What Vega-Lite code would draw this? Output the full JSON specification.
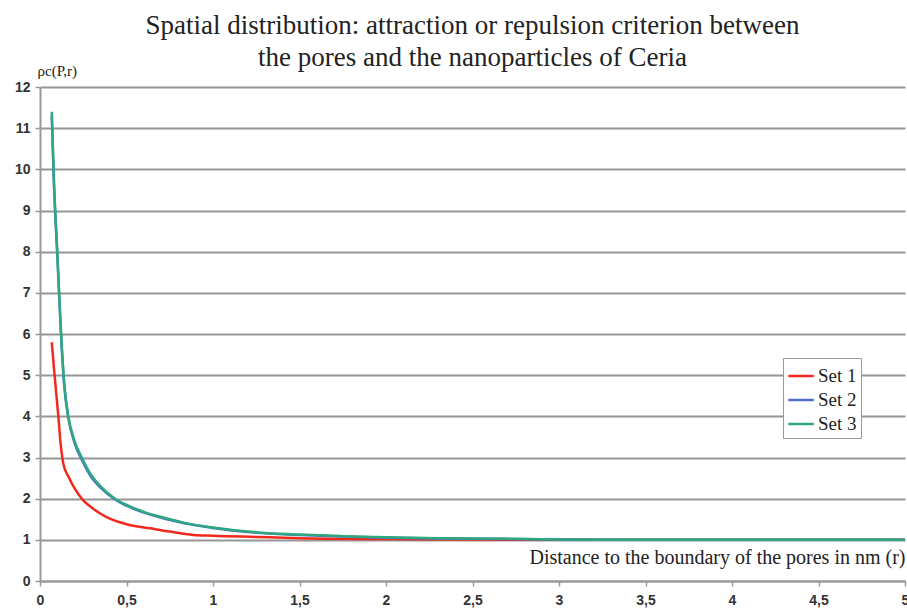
{
  "$schema": "https://vega.github.io/schema/vega-lite/v6.json",
  "autosize": "none",
  "width": 865,
  "height": 494,
  "padding": {"left": 40, "top": 87, "right": 2, "bottom": 32},
  "background": "white",
  "title": {
    "text": ["Spatial distribution: attraction or repulsion criterion between", "the pores and the nanoparticles of Ceria"],
    "font": "Liberation Serif",
    "fontSize": 27,
    "fontWeight": "normal",
    "color": "#222222",
    "lineHeight": 32,
    "anchor": "middle",
    "frame": "group",
    "offset": -9
  },
  "data": {
    "values": [
      {"r": 0.068, "v": 5.8, "s": "Set 1"},
      {"r": 0.08, "v": 5.2, "s": "Set 1"},
      {"r": 0.095, "v": 4.5, "s": "Set 1"},
      {"r": 0.106, "v": 4.0, "s": "Set 1"},
      {"r": 0.12, "v": 3.3, "s": "Set 1"},
      {"r": 0.135, "v": 2.85, "s": "Set 1"},
      {"r": 0.165, "v": 2.53, "s": "Set 1"},
      {"r": 0.2, "v": 2.25, "s": "Set 1"},
      {"r": 0.25, "v": 1.96, "s": "Set 1"},
      {"r": 0.3, "v": 1.78, "s": "Set 1"},
      {"r": 0.348, "v": 1.64, "s": "Set 1"},
      {"r": 0.4, "v": 1.52, "s": "Set 1"},
      {"r": 0.5, "v": 1.38, "s": "Set 1"},
      {"r": 0.637, "v": 1.28, "s": "Set 1"},
      {"r": 0.75, "v": 1.2, "s": "Set 1"},
      {"r": 0.888, "v": 1.12, "s": "Set 1"},
      {"r": 1.0, "v": 1.1, "s": "Set 1"},
      {"r": 1.25, "v": 1.07, "s": "Set 1"},
      {"r": 1.5, "v": 1.04, "s": "Set 1"},
      {"r": 2.0, "v": 1.02, "s": "Set 1"},
      {"r": 2.5, "v": 1.01, "s": "Set 1"},
      {"r": 3.0, "v": 1.0, "s": "Set 1"},
      {"r": 4.0, "v": 1.0, "s": "Set 1"},
      {"r": 5.0, "v": 1.0, "s": "Set 1"},
      {"r": 0.068, "v": 11.3, "s": "Set 2"},
      {"r": 0.08, "v": 9.7, "s": "Set 2"},
      {"r": 0.1, "v": 7.9, "s": "Set 2"},
      {"r": 0.122, "v": 5.95, "s": "Set 2"},
      {"r": 0.14, "v": 4.75, "s": "Set 2"},
      {"r": 0.164, "v": 3.95, "s": "Set 2"},
      {"r": 0.2, "v": 3.35, "s": "Set 2"},
      {"r": 0.241, "v": 2.95, "s": "Set 2"},
      {"r": 0.3, "v": 2.5, "s": "Set 2"},
      {"r": 0.35, "v": 2.27, "s": "Set 2"},
      {"r": 0.434, "v": 1.98, "s": "Set 2"},
      {"r": 0.5, "v": 1.83, "s": "Set 2"},
      {"r": 0.6, "v": 1.66, "s": "Set 2"},
      {"r": 0.734, "v": 1.5, "s": "Set 2"},
      {"r": 0.85, "v": 1.39, "s": "Set 2"},
      {"r": 1.0, "v": 1.29, "s": "Set 2"},
      {"r": 1.2, "v": 1.19, "s": "Set 2"},
      {"r": 1.5, "v": 1.12, "s": "Set 2"},
      {"r": 1.75, "v": 1.08, "s": "Set 2"},
      {"r": 2.0, "v": 1.05, "s": "Set 2"},
      {"r": 2.3, "v": 1.03, "s": "Set 2"},
      {"r": 2.65, "v": 1.02, "s": "Set 2"},
      {"r": 3.0, "v": 1.01, "s": "Set 2"},
      {"r": 3.4, "v": 1.0, "s": "Set 2"},
      {"r": 4.0, "v": 1.0, "s": "Set 2"},
      {"r": 5.0, "v": 1.0, "s": "Set 2"},
      {"r": 0.068, "v": 11.4, "s": "Set 3"},
      {"r": 0.08, "v": 9.8, "s": "Set 3"},
      {"r": 0.1, "v": 8.0, "s": "Set 3"},
      {"r": 0.122, "v": 6.0, "s": "Set 3"},
      {"r": 0.14, "v": 4.8, "s": "Set 3"},
      {"r": 0.164, "v": 4.0, "s": "Set 3"},
      {"r": 0.2, "v": 3.4, "s": "Set 3"},
      {"r": 0.241, "v": 3.0, "s": "Set 3"},
      {"r": 0.3, "v": 2.55, "s": "Set 3"},
      {"r": 0.35, "v": 2.3, "s": "Set 3"},
      {"r": 0.434, "v": 2.0, "s": "Set 3"},
      {"r": 0.5, "v": 1.85, "s": "Set 3"},
      {"r": 0.6, "v": 1.68, "s": "Set 3"},
      {"r": 0.734, "v": 1.52, "s": "Set 3"},
      {"r": 0.85, "v": 1.4, "s": "Set 3"},
      {"r": 1.0, "v": 1.3, "s": "Set 3"},
      {"r": 1.2, "v": 1.2, "s": "Set 3"},
      {"r": 1.5, "v": 1.13, "s": "Set 3"},
      {"r": 1.75, "v": 1.09, "s": "Set 3"},
      {"r": 2.0, "v": 1.06, "s": "Set 3"},
      {"r": 2.3, "v": 1.04, "s": "Set 3"},
      {"r": 2.65, "v": 1.03, "s": "Set 3"},
      {"r": 3.0, "v": 1.01, "s": "Set 3"},
      {"r": 3.5, "v": 1.0, "s": "Set 3"},
      {"r": 4.0, "v": 1.0, "s": "Set 3"},
      {"r": 5.0, "v": 1.0, "s": "Set 3"}
    ]
  },
  "mark": {"type": "line", "strokeWidth": 2.5, "interpolate": "monotone"},
  "encoding": {
    "x": {
      "field": "r",
      "type": "quantitative",
      "scale": {"domain": [0, 5], "nice": false},
      "axis": {
        "values": [0, 0.5, 1, 1.5, 2, 2.5, 3, 3.5, 4, 4.5, 5],
        "labelExpr": "replace(format(datum.value, '~g'), '.', ',')",
        "grid": false,
        "domainColor": "#999999",
        "domainWidth": 2,
        "tickColor": "#999999",
        "tickWidth": 1.5,
        "tickSize": 5,
        "labelFont": "Liberation Sans",
        "labelFontWeight": "bold",
        "labelFontSize": 14,
        "labelColor": "#333333",
        "labelPadding": 7,
        "labelFlush": false,
        "title": "Distance  to the boundary of the pores in nm (r)",
        "titleFont": "Liberation Serif",
        "titleFontSize": 20,
        "titleFontWeight": "normal",
        "titleColor": "#222222",
        "titleAnchor": "end",
        "titleAlign": "right",
        "titleBaseline": "bottom",
        "titleX": 865,
        "titleY": -14
      }
    },
    "y": {
      "field": "v",
      "type": "quantitative",
      "scale": {"domain": [0, 12], "nice": false},
      "axis": {
        "values": [0, 1, 2, 3, 4, 5, 6, 7, 8, 9, 10, 11, 12],
        "grid": true,
        "gridColor": "#969696",
        "gridWidth": 2,
        "gridOpacity": 1,
        "domainColor": "#999999",
        "domainWidth": 2,
        "tickColor": "#999999",
        "tickWidth": 1.5,
        "tickSize": 5,
        "labelFont": "Liberation Sans",
        "labelFontWeight": "bold",
        "labelFontSize": 14,
        "labelColor": "#333333",
        "labelPadding": 5,
        "title": "ρc(P,r)",
        "titleFont": "Liberation Serif",
        "titleFontSize": 15,
        "titleFontWeight": "normal",
        "titleColor": "#222222",
        "titleAngle": 0,
        "titleAlign": "left",
        "titleBaseline": "bottom",
        "titleX": -3,
        "titleY": -9
      }
    },
    "color": {
      "field": "s",
      "type": "nominal",
      "scale": {"domain": ["Set 1", "Set 2", "Set 3"], "range": ["#f2291c", "#4a6fcf", "#2ea87c"]},
      "legend": {
        "title": null,
        "orient": "none",
        "legendX": 743,
        "legendY": 271,
        "symbolType": "stroke",
        "symbolSize": 650,
        "symbolStrokeWidth": 2.5,
        "labelFont": "Liberation Serif",
        "labelFontSize": 19,
        "labelColor": "#222222",
        "fillColor": "white",
        "strokeColor": "#999999",
        "padding": 4,
        "rowPadding": 0,
        "labelOffset": 3
      }
    }
  },
  "config": {"view": {"stroke": null}}
}
